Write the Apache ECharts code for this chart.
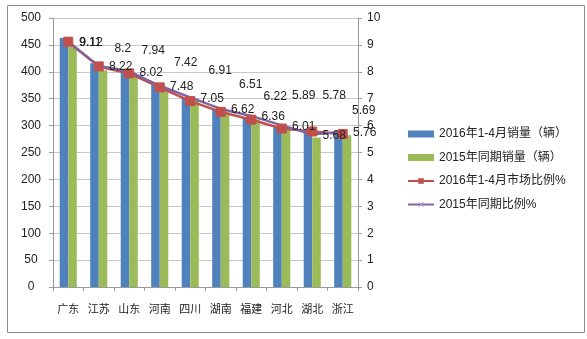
<!DOCTYPE html>
<html>
<head>
<meta charset="utf-8">
<script src="https://cdn.jsdelivr.net/npm/echarts@6/dist/echarts.min.js"></script>
<style>
html,body{margin:0;padding:0;background:#fff;}
#chart{width:587px;height:339px;}
</style>
</head>
<body>
<div id="chart"></div>
<script>
// ---- data ----
const provinces = ['广东','江苏','山东','河南','四川','湖南','福建','河北','湖北','浙江'];
const sales2016 = [463, 416, 403, 377, 351, 331, 316, 299, 293, 289];
const sales2015 = [447, 403, 393, 367, 346, 325, 312, 295, 278, 282];
const share2016 = [9.12, 8.2, 7.94, 7.42, 6.91, 6.51, 6.22, 5.89, 5.78, 5.69];
const share2015 = [9.11, 8.22, 8.02, 7.48, 7.05, 6.62, 6.36, 6.01, 5.68, 5.76];
const seriesNames = ['2016年1-4月销量（辆）','2015年同期销量（辆）','2016年1-4月市场比例%','2015年同期比例%'];
const leftTicks = [0, 500, 50];
const rightTicks = [0, 10, 1];

// ---- label placement (style only) ----
const redLabelDx = [23, 24, 24, 26, 30, 30, 24, 22, 22, 21];
const redLabelDy = [1, -18, -23, -25, -30, -27, -23, -33, -36, -23];

const FONT = 'Arial, "Liberation Sans", "Noto Sans CJK SC", sans-serif';
const CJK = '"Noto Sans CJK SC", sans-serif';
const xPath = 'path://M0,1L1,0L5,4L9,0L10,1L6,5L10,9L9,10L5,6L1,10L0,9L4,5Z';

const chart = echarts.init(document.getElementById('chart'), null, {renderer:'canvas'});
chart.setOption({
  animation: false,
  backgroundColor: '#fff',
  textStyle: {fontFamily: FONT},
  graphic: [{
    type: 'rect', left: 5, top: 3, silent: true,
    shape: {width: 577, height: 327},
    style: {fill: 'none', stroke: '#8c8c8c', lineWidth: 1}
  }],
  grid: {left: 53, right: 229, top: 18, bottom: 52, containLabel: false},
  legend: {
    orient: 'vertical', left: 402, top: 123,
    itemWidth: 26, itemHeight: 7, itemGap: 11.5,
    textStyle: {fontSize: 12, color: '#222', fontFamily: FONT},
    data: [
      {name: seriesNames[0], icon: 'rect'},
      {name: seriesNames[1], icon: 'rect'},
      {name: seriesNames[2]},
      {name: seriesNames[3], itemStyle: {opacity: 1, color: '#b3a2cc'}}
    ]
  },
  xAxis: [{
    type: 'category', data: provinces, boundaryGap: true,
    axisLine: {lineStyle: {color: '#9a9a9a'}},
    axisTick: {show: true, alignWithLabel: false, length: 4, lineStyle: {color: '#9a9a9a'}},
    axisLabel: {fontSize: 11, color: '#222', margin: 16, fontFamily: CJK, interval: 0}
  }],
  yAxis: [{
    type: 'value', min: leftTicks[0], max: leftTicks[1], interval: leftTicks[2],
    axisLine: {show: true, lineStyle: {color: '#9a9a9a'}},
    axisTick: {show: true, length: 4, lineStyle: {color: '#9a9a9a'}},
    splitLine: {show: true, lineStyle: {color: '#c8c8c8'}},
    axisLabel: {fontSize: 12, color: '#222', align: 'center', margin: 22}
  },{
    type: 'value', min: rightTicks[0], max: rightTicks[1], interval: rightTicks[2], position: 'right',
    axisLine: {show: true, lineStyle: {color: '#9a9a9a'}},
    axisTick: {show: true, length: 4, lineStyle: {color: '#9a9a9a'}},
    splitLine: {show: false},
    axisLabel: {fontSize: 12, color: '#222', margin: 9}
  }],
  series: [{
    name: seriesNames[0], type: 'bar', data: sales2016, yAxisIndex: 0,
    barWidth: '28%', barGap: '0%',
    itemStyle: {color: '#4F81BD'}
  },{
    name: seriesNames[1], type: 'bar', data: sales2015, yAxisIndex: 0,
    barWidth: '28%', barGap: '0%',
    itemStyle: {color: '#9BBB59'}
  },{
    name: seriesNames[2], type: 'line', yAxisIndex: 1,
    data: share2016.map((v, i) => ({value: v, label: {offset: [redLabelDx[i], redLabelDy[i]]}})),
    symbol: 'rect', symbolSize: 9,
    lineStyle: {color: '#C0504D', width: 2.5},
    itemStyle: {color: '#C0504D', borderColor: '#C0504D'},
    label: {show: true, position: 'inside', align: 'center', verticalAlign: 'middle',
            fontSize: 12, color: '#222', fontFamily: FONT}
  },{
    name: seriesNames[3], type: 'line', yAxisIndex: 1,
    data: share2015,
    symbol: xPath, symbolSize: 8,
    lineStyle: {color: '#8064A2', width: 2.5},
    itemStyle: {color: '#b3a2cc', opacity: 0},
    label: {show: true, position: 'inside', align: 'center', verticalAlign: 'middle',
            offset: [22, 1], fontSize: 12, color: '#222', fontFamily: FONT, opacity: 1}
  }]
});
</script>
</body>
</html>
